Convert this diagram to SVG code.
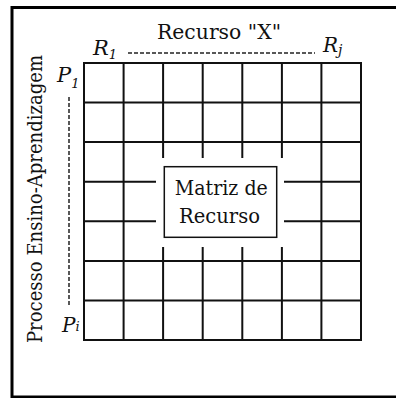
<svg xmlns="http://www.w3.org/2000/svg" width="396" height="398" viewBox="0 0 396 398">
<style>
.g{stroke:#111;stroke-width:2;fill:none;stroke-linecap:square}
.d{stroke:#222;stroke-width:1.5;stroke-dasharray:4 2;fill:none}
.t{font-family:"DejaVu Serif","Liberation Serif",serif;fill:#111}
.i{font-family:"DejaVu Serif","Liberation Serif",serif;font-style:italic;fill:#111}
</style>
<rect width="396" height="398" fill="#fff"/>
<rect id="frame" x="12" y="7.5" width="400" height="389.5" fill="none" stroke="#000" stroke-width="3"/>
<g id="connectors">
<path class="d" d="M128 53H315"/>
<path class="d" d="M69 97V307"/>
</g>
<g id="grid">
<path class="g" d="M84 63V340M123.6 63V340M321.4 63V340M361 63V340"/>
<path class="g" d="M163.1 63V157M202.7 63V157M242.3 63V157M281.9 63V157"/>
<path class="g" d="M163.1 248V340M202.7 248V340M242.3 248V340M281.9 248V340"/>
<path class="g" d="M84 63H361M84 102.6H361M84 142.1H361M84 260.9H361M84 300.4H361M84 340H361"/>
<path class="g" d="M84 181.7H155M285 181.7H361M84 221.3H155M285 221.3H361"/>
</g>
<g id="matriz">
<rect x="164.3" y="166.7" width="112.4" height="70.6" fill="#fff" stroke="#111" stroke-width="1.5"/>
<text class="t" x="221.3" y="195" font-size="20" text-anchor="middle" textLength="93" lengthAdjust="spacingAndGlyphs">Matriz de</text>
<text class="t" x="219.5" y="223" font-size="20" text-anchor="middle" textLength="81" lengthAdjust="spacingAndGlyphs">Recurso</text>
</g>
<g id="title">
<text class="t" x="219" y="39" font-size="20" text-anchor="middle" textLength="124" lengthAdjust="spacingAndGlyphs">Recurso "X"</text>
</g>
<g id="side">
<text class="t" transform="translate(42,199) rotate(-90)" font-size="21" text-anchor="middle" textLength="288" lengthAdjust="spacingAndGlyphs">Processo Ensino-Aprendizagem</text>
</g>
<g id="r1"><text class="i" x="93" y="55" font-size="21">R<tspan font-size="13" dy="4">1</tspan></text></g>
<g id="rj"><text class="i" x="323" y="52" font-size="20">R<tspan font-size="14" dy="3">j</tspan></text></g>
<g id="p1"><text class="i" x="57" y="82" font-size="21">P<tspan font-size="13" dy="6">1</tspan></text></g>
<g id="pi"><text class="i" x="62" y="332" font-size="20">P<tspan font-size="13" dy="-1">i</tspan></text></g>
</svg>
